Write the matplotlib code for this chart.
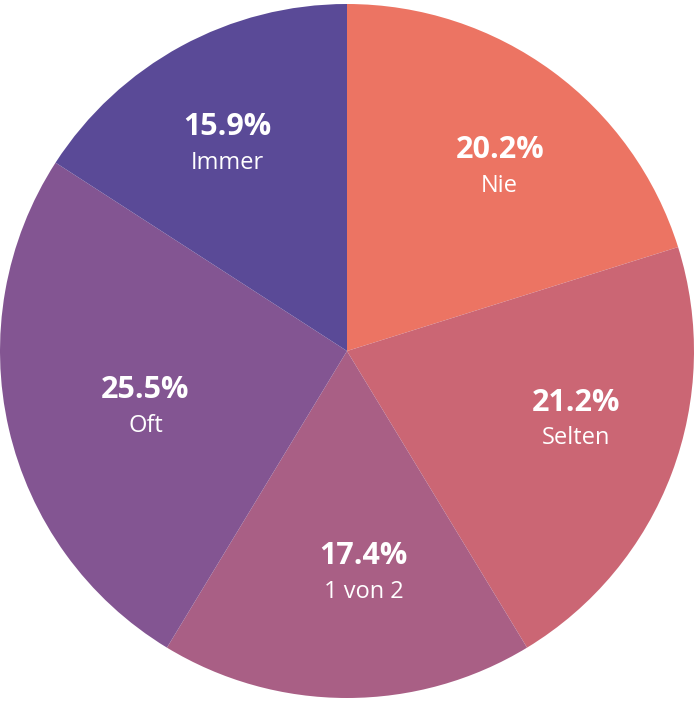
import matplotlib.pyplot as plt
import numpy as np

labels = ["Nie", "Selten", "1 von 2", "Oft", "Immer"]
values = [20.2, 21.2, 17.4, 25.5, 15.9]
colors = ["#EC7463", "#CB6674", "#A95F85", "#835592", "#5A4A97"]
# label block placement: fraction of radius and angular nudge (deg, clockwise)
label_radius = [0.695, 0.687, 0.634, 0.601, 0.697]
label_nudge = [3.0, -4.7, -4.3, -1.9, -1.2]

fig = plt.figure(figsize=(6.94, 7.02), dpi=100)
ax = fig.add_axes([0, 0, 1, 1])
wedges, _ = ax.pie(values, colors=colors, startangle=90, counterclock=False,
                   radius=1, center=(0, 0), wedgeprops=dict(linewidth=0))
for w, lab, v, r, nd in zip(wedges, labels, values, label_radius, label_nudge):
    ang = np.deg2rad((w.theta1 + w.theta2) / 2 - nd)
    x, y = r * np.cos(ang), r * np.sin(ang)
    ax.text(x, y - 0.003, f"{v:.1f}%", ha="center", va="bottom", color="white",
            fontsize=22, fontweight="bold", family="Open Sans")
    ax.text(x, y - 0.028, lab, ha="center", va="top", color="white",
            fontsize=17, family="Open Sans")
cy = 351 / 347
ax.set_xlim(-1, 694 / 347 - 1)
ax.set_ylim(-(702 - 351) / 347, cy)
ax.set_aspect("equal")
ax.axis("off")
fig.savefig("out.png", dpi=100, facecolor="white")
